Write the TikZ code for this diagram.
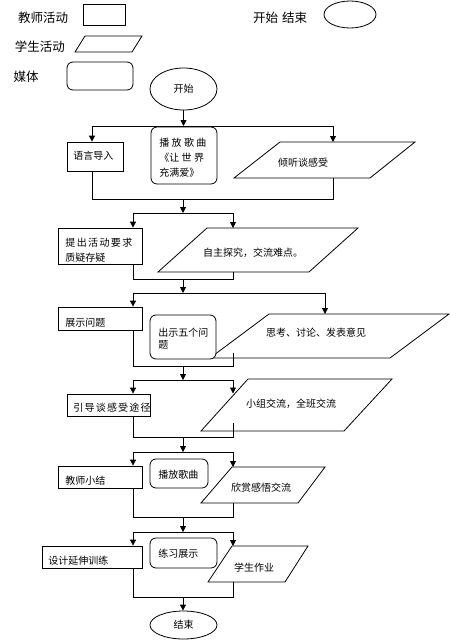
\documentclass[tikz,border=0pt]{standalone}
\usepackage{fontspec}
\setmainfont{Noto Sans CJK SC}
\usetikzlibrary{arrows.meta,shapes.geometric}
\begin{document}
\begin{tikzpicture}[x=1pt,y=-1pt,line width=0.8pt,
  shp/.style={draw, fill=white, inner sep=0pt},
  rbox/.style={shp, rounded corners=6pt},
  oval/.style={shp, ellipse},
  txt/.style={inner sep=0pt, anchor=west, align=left, font=\fontsize{10}{15}\selectfont},
  ctxt/.style={inner sep=0pt, font=\fontsize{10}{15}\selectfont},
  lgd/.style={inner sep=0pt, font=\fontsize{12.5}{15}\selectfont},
  arr/.style={-{Triangle[length=6pt,width=6pt]}}]
\useasboundingbox (0,0) rectangle (450,643);
% ---------- legend ----------
\node[lgd] (l1t) at (43,18) {教师活动};
\node[shp, minimum width=42pt, minimum height=21pt] (l1) at (104,14.5) {};
\node[lgd] (l2t) at (40,47) {学生活动};
\draw[shp] (75,52) -- (85,36) -- (142,36) -- (132,52) -- cycle;
\node[lgd] (l3t) at (26,77) {媒体};
\node[rbox, minimum width=66pt, minimum height=28pt] (l3) at (100,76) {};
\node[lgd] (l4t) at (280,18) {开始\hspace{4pt}结束};
\node[oval, minimum width=52pt, minimum height=27pt] (l4) at (350,14.5) {};
% ---------- start ----------
\node[oval, minimum width=67pt, minimum height=42pt, font=\fontsize{10}{12}\selectfont] (st) at (183.5,89) {开始};
% ---------- row 1 ----------
\node[shp, minimum width=56pt, minimum height=29pt] (b1) at (95,156.5) {};
\node[txt] (t1) at (73,156) {语言导入};
\node[rbox, minimum width=66pt, minimum height=57pt] (mb2) at (184,155.5) {};
\node[txt] (t2) at (159,158) {播\kern2.3pt放\kern2.3pt歌\kern2.3pt曲\\《让\kern2.3pt世\kern2.3pt界\\充满爱》};
\draw[shp] (280,142) -- (415,142) -- (370,178) -- (234,178) -- cycle;
\node[ctxt] (t3) at (303,162.5) {倾听谈感受};
% ---------- row 2 ----------
\node[shp, minimum width=84pt, minimum height=36pt] (b4) at (100,246) {};
\node[txt] (t4) at (65,250.5) {提\kern1.4pt出\kern1.4pt活\kern1.4pt动\kern1.4pt要\kern1.4pt求\\质疑存疑};
\draw[shp] (207,228) -- (358,228) -- (309,272) -- (158,272) -- cycle;
\node[ctxt] (t5) at (253,253) {自主探究，交流难点。};
% ---------- row 3 ----------
\node[shp, minimum width=84pt, minimum height=23pt] (b6) at (100,318.5) {};
\node[txt] (t6) at (65,322.5) {展示问题};
\draw[shp] (269,314) -- (449,314) -- (390,358) -- (210,358) -- cycle;
\node[ctxt] (t8) at (316,333) {思考、讨论、发表意见};
\node[rbox, minimum width=66pt, minimum height=44pt] (mb7) at (183,337) {};
\node[txt, font=\fontsize{10}{12}\selectfont] (t7) at (158,339) {出示五个问\\题};
% ---------- row 4 ----------
\node[shp, minimum width=83pt, minimum height=22pt] (b9) at (108.5,405) {};
\node[txt] (t9) at (73,408) {引\kern1.2pt导\kern1.2pt谈\kern1.2pt感\kern1.2pt受\kern1.2pt途\kern1.2pt径};
\draw[shp] (248,379) -- (392,379) -- (344,431) -- (201,431) -- cycle;
\node[ctxt] (t10) at (291,404) {小组交流，全班交流};
% ---------- row 5 ----------
\node[shp, minimum width=84pt, minimum height=22pt] (b11) at (100,477) {};
\node[txt] (t11) at (65,481) {教师小结};
\node[rbox, minimum width=58pt, minimum height=29pt] (mb12) at (179,473.5) {};
\node[txt] (t12) at (158,475) {播放歌曲};
\draw[shp] (232,467) -- (325,467) -- (298,503) -- (201,503) -- cycle;
\node[ctxt] (t13) at (261,488) {欣赏感悟交流};
% ---------- row 6 ----------
\node[shp, minimum width=100pt, minimum height=22pt] (b14) at (92,557) {};
\node[txt] (t14) at (48,561) {设计延伸训练};
\node[rbox, minimum width=67pt, minimum height=30pt] (mb15) at (183.5,553) {};
\node[txt] (t15) at (158,554) {练习展示};
\draw[shp] (232,546) -- (308,546) -- (285,582) -- (208,582) -- cycle;
\node[ctxt] (t16) at (254,568) {学生作业};
% ---------- end ----------
\node[oval, minimum width=67pt, minimum height=28pt, font=\fontsize{10}{12}\selectfont] (en) at (183.5,625) {结束};
% ---------- junction coordinates ----------
\coordinate (j1l) at (92,126);  \coordinate (j1r) at (333,126);
\coordinate (p3t) at (333,142); \coordinate (p3b) at (333,178);
\coordinate (j2l) at (92,199);  \coordinate (j2r) at (333,199); \coordinate (m2) at (183,199);
\coordinate (j3l) at (133,213); \coordinate (j3r) at (233,213);
\coordinate (p5t) at (233,228); \coordinate (p5b) at (233,272);
\coordinate (j4l) at (133,279); \coordinate (j4r) at (233,279); \coordinate (m4) at (183,279);
\coordinate (j5l) at (133,293); \coordinate (j5r) at (325,293);
\coordinate (p8t) at (325,314); \coordinate (p8b) at (233,353);
\coordinate (j6l) at (133,366); \coordinate (j6r) at (233,366); \coordinate (m6) at (183,366);
\coordinate (j7l) at (133,380); \coordinate (j7r) at (233,380);
\coordinate (p10t) at (233,393.5); \coordinate (p10b) at (233,423);
\coordinate (j8l) at (133,437); \coordinate (j8r) at (233,437); \coordinate (m8) at (183,437);
\coordinate (j9l) at (133,452); \coordinate (j9r) at (233,452);
\coordinate (p13t) at (233,467); \coordinate (p13b) at (233,503);
\coordinate (j10l) at (133,517); \coordinate (j10r) at (233,517); \coordinate (m10) at (183,517);
\coordinate (j11l) at (133,532); \coordinate (j11r) at (233,532);
\coordinate (p16t) at (233,546); \coordinate (p16b) at (233,582);
\coordinate (j12l) at (133,597); \coordinate (j12r) at (233,597); \coordinate (m12) at (183,597);
% ---------- connectors ----------
\draw[arr] (st.south) -- (st.south |- j1l);
\draw (j1l) -- (j1r);
\draw[arr] (j1l) -- (j1l |- b1.north);
\draw[arr] (j1r) -- (p3t);
\draw (j2l |- b1.south) -- (j2l) -- (j2r) -- (p3b);
\draw[arr] (m2) -- (m2 |- j3l);
\draw (j3l) -- (j3r);
\draw[arr] (j3l) -- (j3l |- b4.north);
\draw[arr] (j3r) -- (p5t);
\draw (j4l |- b4.south) -- (j4l) -- (j4r) -- (p5b);
\draw[arr] (m4) -- (m4 |- j5l);
\draw (j5l) -- (j5r);
\draw[arr] (j5l) -- (j5l |- b6.north);
\draw[arr] (j5r) -- (p8t);
\draw (j6l |- b6.south) -- (j6l) -- (j6r) -- (p8b);
\draw[arr] (m6) -- (m6 |- j7l);
\draw (j7l) -- (j7r);
\draw[arr] (j7l) -- (j7l |- b9.north);
\draw[arr] (j7r) -- (p10t);
\draw (j8l |- b9.south) -- (j8l) -- (j8r) -- (p10b);
\draw[arr] (m8) -- (m8 |- j9l);
\draw (j9l) -- (j9r);
\draw[arr] (j9l) -- (j9l |- b11.north);
\draw[arr] (j9r) -- (p13t);
\draw (j10l |- b11.south) -- (j10l) -- (j10r) -- (p13b);
\draw[arr] (m10) -- (m10 |- j11l);
\draw (j11l) -- (j11r);
\draw[arr] (j11l) -- (j11l |- b14.north);
\draw[arr] (j11r) -- (p16t);
\draw (j12l |- b14.south) -- (j12l) -- (j12r) -- (p16b);
\draw[arr] (m12) -- (m12 |- en.north);
\end{tikzpicture}
\end{document}
